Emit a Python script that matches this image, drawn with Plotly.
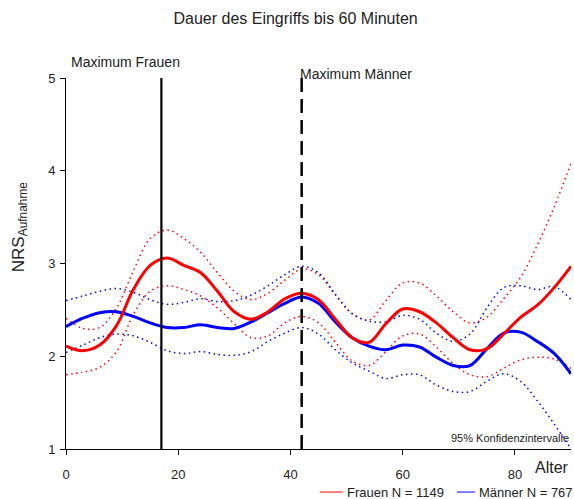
import plotly.graph_objects as go

# Altersraster (Jahre)
alter = [0, 3, 6, 9, 12, 15, 18, 21, 24, 27, 30, 33, 36, 39, 42, 45,
         48, 51, 54, 57, 60, 63, 66, 69, 72, 75, 78, 81, 84, 87, 90]

# Geglättete NRS-Werte bei Aufnahme, Frauen
frauen = [2.11, 2.06, 2.12, 2.33, 2.72, 2.98, 3.06, 2.98, 2.90, 2.70, 2.48,
          2.40, 2.48, 2.62, 2.68, 2.61, 2.40, 2.20, 2.15, 2.35, 2.51, 2.48,
          2.36, 2.20, 2.07, 2.08, 2.24, 2.42, 2.55, 2.74, 2.97]
frauen_ob = [2.41, 2.30, 2.31, 2.52, 2.92, 3.27, 3.36, 3.27, 3.12, 2.90, 2.70,
             2.61, 2.68, 2.82, 2.94, 2.88, 2.66, 2.46, 2.39, 2.60, 2.79, 2.79,
             2.65, 2.48, 2.36, 2.42, 2.62, 2.85, 3.20, 3.61, 4.08]
frauen_un = [1.80, 1.83, 1.88, 2.05, 2.45, 2.70, 2.76, 2.72, 2.65, 2.52, 2.35,
             2.20, 2.22, 2.36, 2.43, 2.36, 2.15, 1.95, 1.90, 2.05, 2.22, 2.24,
             2.10, 1.92, 1.80, 1.78, 1.87, 1.96, 1.99, 1.97, 1.87]

# Geglättete NRS-Werte bei Aufnahme, Männer
maenner = [2.32, 2.41, 2.47, 2.48, 2.43, 2.36, 2.31, 2.31, 2.34, 2.31, 2.30,
           2.37, 2.47, 2.57, 2.64, 2.57, 2.37, 2.20, 2.11, 2.07, 2.12, 2.10,
           1.99, 1.90, 1.90, 2.08, 2.25, 2.26, 2.16, 2.03, 1.81]
maenner_ob = [2.60, 2.65, 2.70, 2.73, 2.69, 2.61, 2.56, 2.58, 2.62, 2.59, 2.60,
              2.66, 2.76, 2.88, 2.97, 2.90, 2.67, 2.46, 2.38, 2.37, 2.44, 2.40,
              2.25, 2.16, 2.24, 2.52, 2.74, 2.76, 2.72, 2.75, 2.61]
maenner_un = [2.04, 2.12, 2.20, 2.24, 2.22, 2.15, 2.06, 2.03, 2.05, 2.02, 2.01,
              2.05, 2.16, 2.25, 2.31, 2.24, 2.07, 1.93, 1.84, 1.76, 1.80, 1.80,
              1.69, 1.62, 1.62, 1.73, 1.81, 1.73, 1.52, 1.27, 1.00]

# Alter mit maximaler Schmerzstärke
max_frauen = 17
max_maenner = 42

x_ticks = [0, 20, 40, 60, 80]
y_ticks = [1, 2, 3, 4, 5]
y_bereich = [1, 5]
x_bereich = [0, 90]

ROT = "#ff0000"
BLAU = "#0000ff"
TEXT = "#222222"
SCHRIFT = "Liberation Sans, Arial, sans-serif"

fig = go.Figure()

# 95%-Konfidenzbänder als gepunktete Linien
punkt = "1.5px,3.5px"
for werte, farbe in [(frauen_ob, ROT), (frauen_un, ROT),
                     (maenner_ob, BLAU), (maenner_un, BLAU)]:
    fig.add_trace(go.Scatter(x=alter, y=werte, mode="lines",
                             line=dict(color=farbe, width=1.5, dash=punkt,
                                       shape="spline", smoothing=1.0),
                             showlegend=False, hoverinfo="skip"))

# Geglättete Verläufe
fig.add_trace(go.Scatter(x=alter, y=maenner, mode="lines",
                         line=dict(color=BLAU, width=3, shape="spline", smoothing=1.0),
                         showlegend=False))
fig.add_trace(go.Scatter(x=alter, y=frauen, mode="lines",
                         line=dict(color=ROT, width=3, shape="spline", smoothing=1.0),
                         showlegend=False))

# Senkrechte Markierungen der Maxima
fig.add_trace(go.Scatter(x=[max_frauen, max_frauen], y=y_bereich, mode="lines",
                         line=dict(color="black", width=2.2), showlegend=False))
fig.add_trace(go.Scatter(x=[max_maenner, max_maenner], y=y_bereich, mode="lines",
                         line=dict(color="black", width=2.5, dash="14px,7px"),
                         showlegend=False))

def text(x, y, s, size, xref="paper", yref="paper", **kw):
    fig.add_annotation(x=x, y=y, xref=xref, yref=yref, text=s, showarrow=False,
                       font=dict(size=size, color=TEXT, family=SCHRIFT), **kw)

text(0, 5, "Maximum Frauen", 14, yref="y", xanchor="left", xshift=3,
     yanchor="bottom", yshift=6)
text(max_maenner, 5, "Maximum Männer", 14, xref="x", yref="y", xanchor="left",
     xshift=-4, yanchor="bottom", yshift=-6)
text(1, 0, "95% Konfidenzintervalle", 11, xanchor="right", yanchor="bottom", yshift=3)
text(1, 0, "Alter", 16, xanchor="right", yanchor="top", yshift=-8)
text(-0.091, 0.598, "NRS<sub>Aufnahme</sub>", 17, xanchor="center", yanchor="middle",
     textangle=-90)

# Legende unter der Grafik
leg_y = -0.116
for x0, x1, farbe, label in [(0.503, 0.548, ROT, "Frauen N = 1149"),
                             (0.774, 0.810, BLAU, "Männer N = 767")]:
    fig.add_shape(type="line", xref="paper", yref="paper", x0=x0, x1=x1,
                  y0=leg_y, y1=leg_y, line=dict(color=farbe, width=1))
    text(x1 + 0.006, leg_y, label, 13, xanchor="left", yanchor="middle", xshift=-1)

fig.update_layout(
    width=574, height=499,
    margin=dict(l=66, r=3, t=78, b=50),
    paper_bgcolor="white", plot_bgcolor="white",
    font=dict(family=SCHRIFT, color=TEXT, size=13),
    showlegend=False,
    title=dict(text="Dauer des Eingriffs bis 60 Minuten", x=0.515, xanchor="center",
               y=0.963, yanchor="middle",
               font=dict(size=16, color=TEXT, family=SCHRIFT)),
    xaxis=dict(range=x_bereich, tickvals=x_ticks, showgrid=False, zeroline=False,
               showline=True, linecolor="black", linewidth=1,
               ticks="outside", ticklen=5, tickcolor="black",
               ticklabelstandoff=8, tickfont=dict(size=13)),
    yaxis=dict(range=y_bereich, tickvals=y_ticks, showgrid=False, zeroline=False,
               showline=True, linecolor="black", linewidth=1,
               ticks="outside", ticklen=5, tickcolor="black",
               ticklabelstandoff=2, tickfont=dict(size=13)),
)

fig.write_html("out.html")
